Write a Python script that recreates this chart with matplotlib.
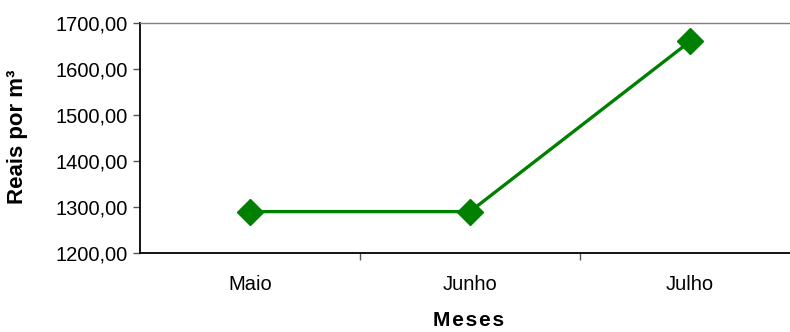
import matplotlib
matplotlib.use("Agg")
import matplotlib.pyplot as plt
from matplotlib.ticker import FuncFormatter

plt.rcParams['font.family'] = ['Liberation Sans', 'DejaVu Sans']

months = ["Maio", "Junho", "Julho"]
values = [1290.0, 1290.0, 1660.0]
y_ticks = [1200, 1300, 1400, 1500, 1600, 1700]

W, H = 790, 332
fig = plt.figure(figsize=(W/100, H/100), dpi=100)
ax = fig.add_axes([140/W, 1-253/H, 660/W, 230/H])

x = list(range(len(months)))
ax.plot(x, values, color='#008000', lw=2.4, marker='D', ms=13, mfc='#008000', mec='#008000', clip_on=False, zorder=3)

ax.set_xlim(-0.5, 2.5)
ax.set_ylim(1200, 1700)
ax.set_yticks(y_ticks)
ax.yaxis.set_major_formatter(FuncFormatter(lambda v, p: f"{v:.2f}".replace('.', ',')))
ax.set_xticks([0.5, 1.5], minor=False)
ax.set_xticks(x, minor=True)
ax.set_xticklabels([], minor=False)
ax.set_xticklabels(months, minor=True)
ax.tick_params(axis='x', which='minor', length=0, pad=16, labelsize=14.5)
ax.tick_params(axis='x', which='major', length=5, width=1, color='#555555', direction='out')
ax.tick_params(axis='y', length=5, width=1, color='#555555', direction='out', pad=4, labelsize=14.5)

for s in ['left', 'bottom']:
    ax.spines[s].set_color('black')
    ax.spines[s].set_linewidth(1.3)
ax.spines['top'].set_color('#808080')
ax.spines['top'].set_linewidth(1)
ax.spines['right'].set_visible(False)

fig.text(18/W, 1-137/H, "Reais por m³", rotation=90, ha='center', va='center', fontsize=16, fontweight='bold')
fig.text(469/W, 1-321/H, "\u200a".join("Meses"), ha='center', va='center', fontsize=15, fontweight='bold')

fig.savefig("out.png", dpi=100)
